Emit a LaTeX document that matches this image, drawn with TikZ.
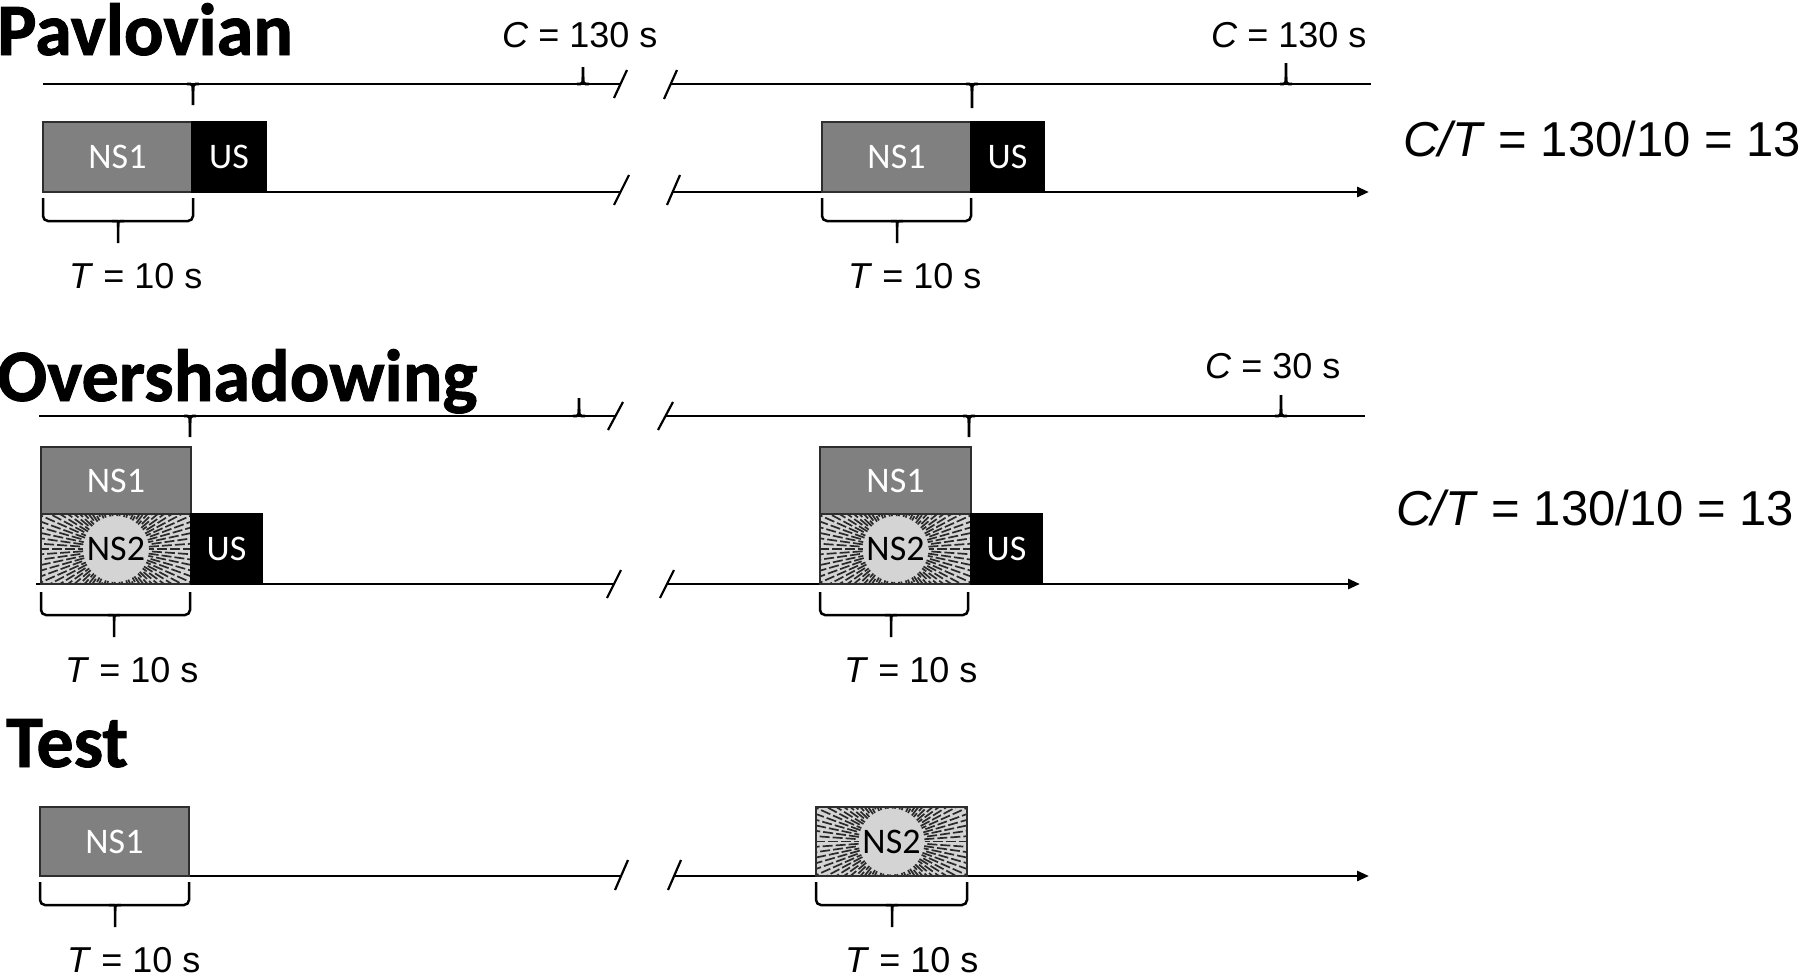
\documentclass[tikz,border=0pt]{standalone}
\usepackage{fontspec}
\setmainfont{Liberation Sans}
\newfontfamily\calibri{Carlito}
\newfontfamily\ttlfont[FakeBold=1.2]{Carlito Bold}
\usetikzlibrary{arrows.meta}
\definecolor{nsgray}{HTML}{808080}
\definecolor{nslight}{HTML}{D4D4D4}
\definecolor{edgegray}{HTML}{2E2E2E}
\definecolor{raycol}{HTML}{2A2A2A}
\newcommand{\mydown}[3]{\draw[tl] (#1-6,#2) .. controls (#1,#2) .. (#1,#2+7) -- (#1,#3); \draw[tl] (#1+6,#2) .. controls (#1,#2) .. (#1,#2+7);}
\newcommand{\myup}[3]{\draw[tl] (#1-6,#2) .. controls (#1,#2) .. (#1,#2-7) -- (#1,#3); \draw[tl] (#1+6,#2) .. controls (#1,#2) .. (#1,#2-7);}
\newcommand{\mybrace}[4]{\draw[brc] (#1,#3) -- (#1,#3+23) -- (#2,#3+23) -- (#2,#3); \draw[brc] (#4-6,#3+23) .. controls (#4,#3+23) .. (#4,#3+29) -- (#4,#3+45); \draw[brc] (#4+6,#3+23) .. controls (#4,#3+23) .. (#4,#3+29);}
\newcommand{\myrays}[1]{%
  \begin{scope}
    \clip (#1.north west) rectangle (#1.south east);
    \foreach \a [count=\i] in {0,4,...,356}
      \draw[ray, dash phase={mod(\i,3)*5pt}] (#1.center) ++(\a:33) -- ++(\a:90);
  \end{scope}
  \draw[line width=1.8pt, draw=edgegray] (#1.north west) rectangle (#1.south east);
  \node[font=\calibri\fontsize{36}{36}\selectfont, inner sep=0] at (#1.center) {NS2};}
\begin{document}
\begin{tikzpicture}[x=1pt,y=-1pt,
  tl/.style={line width=2.8pt, black},
  ax/.style={line width=2.8pt, black, -{Triangle[length=12pt,width=10pt]}},
  brk/.style={line width=2.2pt, black},
  brc/.style={line width=2.5pt, black, rounded corners=5pt},
  ray/.style={line width=1.7pt, raycol, dash pattern=on 10pt off 3pt},
  boxbase/.style={anchor=north west, inner sep=0, outer sep=0, minimum height=69pt,
    font=\calibri\fontsize{36}{36}\selectfont},
  nsone/.style={boxbase, draw=edgegray, line width=1.8pt, fill=nsgray, text=white, minimum width=150pt},
  nstwo/.style={boxbase, fill=nslight, text=nslight, minimum width=150pt},
  usbox/.style={boxbase, draw=black, line width=1.5pt, fill=black, text=white, minimum width=72pt},
  lbl/.style={font=\fontsize{36}{36}\selectfont, inner sep=0, anchor=base west},
  ratio/.style={font=\fontsize{49}{49}\selectfont, inner sep=0, anchor=base west},
  ttl/.style={font=\ttlfont\fontsize{74}{74}\selectfont, inner sep=0, anchor=base west}
]
\useasboundingbox (0,0) rectangle (1800,977);

% ---------------- Pavlovian ----------------
\node[ttl] (tp) at (-3,55) {Pavlovian};
\node[lbl] (cpa) at (502,47) {\textit{C} = 130 s};
\node[lbl] (cpb) at (1211,47) {\textit{C} = 130 s};
\coordinate (p1a) at (43,84);  \coordinate (p1b) at (620,84);
\coordinate (p1c) at (670,84); \coordinate (p1d) at (1371,84);
\draw[tl] (p1a) -- (p1b);
\draw[tl] (p1c) -- (p1d);
\mydown{193}{84}{105}
\myup{583}{84}{67}
\mydown{972}{84}{108}
\myup{1286}{84}{63}
\draw[brk] (614,98) -- (627,70);
\draw[brk] (664,99) -- (677,70);
\coordinate (p2a) at (43,192);  \coordinate (p2b) at (621,192);
\coordinate (p2c) at (673,192); \coordinate (p2d) at (1369,192);
\draw[tl] (p2a) -- (p2b);
\draw[ax] (p2c) -- (p2d);
\draw[brk] (614,205) -- (629,175);
\draw[brk] (667,205) -- (680,175);
\node[nsone, minimum width=149pt, minimum height=70pt] (pns1a) at (43,122) {NS1};
\node[usbox, minimum width=74pt, minimum height=70pt] (pusa) at (pns1a.north east) {US};
\node[nsone, minimum width=149pt, minimum height=70pt] (pns1b) at (822,122) {NS1};
\node[usbox, minimum width=73pt, minimum height=70pt] (pusb) at (pns1b.north east) {US};
\mybrace{43}{193}{198}{118}
\mybrace{822}{971}{198}{897}
\node[lbl] (pta) at (69,288) {\textit{T} = 10 s};
\node[lbl] (ptb) at (848,288) {\textit{T} = 10 s};
\node[ratio] (pr) at (1403,156) {\textit{C/T} = 130/10 = 13};

% ---------------- Overshadowing ----------------
\node[ttl] (to) at (-3,401) {Overshadowing};
\node[lbl] (coa) at (1205,378) {\textit{C} = 30 s};
\coordinate (o1a) at (39,416);  \coordinate (o1b) at (615,416);
\coordinate (o1c) at (665,416); \coordinate (o1d) at (1365,416);
\draw[tl] (o1a) -- (o1b);
\draw[tl] (o1c) -- (o1d);
\mydown{190}{416}{437}
\myup{579}{416}{398}
\mydown{969}{416}{437}
\myup{1281}{416}{395}
\draw[brk] (608,430) -- (623,402);
\draw[brk] (658,430) -- (673,402);
\coordinate (o2a) at (36,584);  \coordinate (o2b) at (614,584);
\coordinate (o2c) at (667,584); \coordinate (o2d) at (1360,584);
\draw[tl] (o2a) -- (o2b);
\draw[ax] (o2c) -- (o2d);
\draw[brk] (607,598) -- (621,570);
\draw[brk] (660,598) -- (674,570);
\node[nsone, minimum width=150pt, minimum height=67pt] (ons1a) at (41,447) {NS1};
\node[nstwo, minimum width=150pt, minimum height=70pt] (ons2a) at (41,514) {NS2};
\myrays{ons2a}
\node[usbox, minimum width=71pt, minimum height=70pt] (ousa) at (ons2a.north east) {US};
\node[nsone, minimum width=151pt, minimum height=67pt] (ons1b) at (820,447) {NS1};
\node[nstwo, minimum width=151pt, minimum height=70pt] (ons2b) at (820,514) {NS2};
\myrays{ons2b}
\node[usbox, minimum width=71pt, minimum height=70pt] (ousb) at (ons2b.north east) {US};
\mybrace{41}{190}{592}{114}
\mybrace{820}{968}{592}{891}
\node[lbl] (ota) at (65,682) {\textit{T} = 10 s};
\node[lbl] (otb) at (844,682) {\textit{T} = 10 s};
\node[ratio] (orr) at (1396,525) {\textit{C/T} = 130/10 = 13};

% ---------------- Test ----------------
\node[ttl] (tt) at (6,767) {Test};
\coordinate (t1a) at (40,876);  \coordinate (t1b) at (621,876);
\coordinate (t1c) at (674,876); \coordinate (t1d) at (1369,876);
\draw[tl] (t1a) -- (t1b);
\draw[ax] (t1c) -- (t1d);
\draw[brk] (615,890) -- (628,860);
\draw[brk] (668,890) -- (681,860);
\node[nsone, minimum width=149pt, minimum height=69pt] (tns1) at (40,807) {NS1};
\node[nstwo, minimum width=151pt, minimum height=69pt] (tns2) at (816,807) {NS2};
\myrays{tns2}
\mybrace{40}{189}{882}{115}
\mybrace{816}{967}{882}{892}
\node[lbl] (tta) at (67,972) {\textit{T} = 10 s};
\node[lbl] (ttb) at (845,972) {\textit{T} = 10 s};
\end{tikzpicture}
\end{document}
